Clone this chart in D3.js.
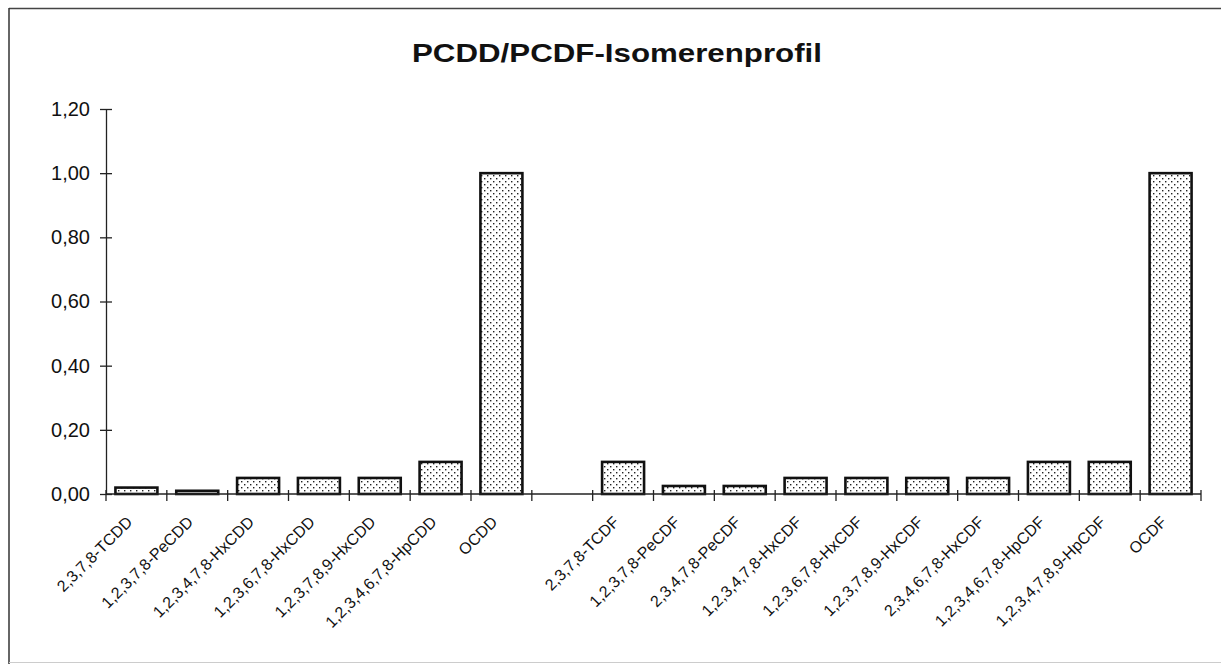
<!DOCTYPE html>
<html>
<head>
<meta charset="utf-8">
<script src="https://cdn.jsdelivr.net/npm/d3@7"></script>
<style>
  html, body { margin: 0; padding: 0; background: #fff; }
  svg { display: block; }
  text { font-family: "Liberation Sans", Arial, sans-serif; fill: #111; }
</style>
</head>
<body>
<svg id="chart" width="1221" height="664"></svg>
<script>
// ---- data ----
const title = "PCDD/PCDF-Isomerenprofil";
const categories = [
  "2,3,7,8-TCDD", "1,2,3,7,8-PeCDD", "1,2,3,4,7,8-HxCDD", "1,2,3,6,7,8-HxCDD",
  "1,2,3,7,8,9-HxCDD", "1,2,3,4,6,7,8-HpCDD", "OCDD", "",
  "2,3,7,8-TCDF", "1,2,3,7,8-PeCDF", "2,3,4,7,8-PeCDF", "1,2,3,4,7,8-HxCDF",
  "1,2,3,6,7,8-HxCDF", "1,2,3,7,8,9-HxCDF", "2,3,4,6,7,8-HxCDF",
  "1,2,3,4,6,7,8-HpCDF", "1,2,3,4,7,8,9-HpCDF", "OCDF"
];
const values = [
  0.02, 0.01, 0.05, 0.05, 0.05, 0.10, 1.00, null,
  0.10, 0.025, 0.025, 0.05, 0.05, 0.05, 0.05, 0.10, 0.10, 1.00
];
const yTicks = [0, 0.2, 0.4, 0.6, 0.8, 1.0, 1.2];

// ---- layout ----
const svg = d3.select("#chart");
const mLeft = 106, mRight = 1201, mTop = 109, mBottom = 494;

// dotted fill pattern
const defs = svg.append("defs");
const pat = defs.append("pattern")
  .attr("id", "dots").attr("patternUnits", "userSpaceOnUse")
  .attr("width", 6).attr("height", 6);
pat.append("rect").attr("width", 6).attr("height", 6).attr("fill", "#fff");
pat.append("rect").attr("x", 1).attr("y", 1).attr("width", 1.4).attr("height", 1.4).attr("fill", "#222");
pat.append("rect").attr("x", 4).attr("y", 4).attr("width", 1.4).attr("height", 1.4).attr("fill", "#222");

// frame
svg.append("line").attr("x1", 9).attr("x2", 1221).attr("y1", 8.5).attr("y2", 8.5)
  .attr("stroke", "#444").attr("stroke-width", 1.5);
svg.append("line").attr("x1", 9).attr("x2", 9).attr("y1", 8).attr("y2", 664)
  .attr("stroke", "#333").attr("stroke-width", 1.5);
svg.append("line").attr("x1", 9).attr("x2", 1221).attr("y1", 662.5).attr("y2", 662.5)
  .attr("stroke", "#ccc").attr("stroke-width", 1);

// title
svg.append("text").attr("x", 617).attr("y", 62).attr("text-anchor", "middle")
  .attr("font-size", 26).attr("font-weight", "bold")
  .attr("textLength", 410).attr("lengthAdjust", "spacingAndGlyphs")
  .text(title);

// scales
const x = d3.scaleBand().domain(d3.range(categories.length))
  .range([mLeft, mRight]).paddingInner(0.31).paddingOuter(0.155);
const y = d3.scaleLinear().domain([0, 1.2]).range([mBottom, mTop]);
const step = x.step();
const x0 = x(0) - step * x.paddingOuter();

// bars
svg.append("g").selectAll("rect")
  .data(values.map((v, i) => ({ v, i })).filter(d => d.v != null))
  .join("rect")
  .attr("x", d => x(d.i))
  .attr("width", x.bandwidth())
  .attr("y", d => y(d.v))
  .attr("height", d => y(0) - y(d.v))
  .attr("fill", "url(#dots)")
  .attr("stroke", "#111").attr("stroke-width", 2.6);

// y axis
const fmt = d3.format(".2f");
const yAxis = d3.axisLeft(y).tickValues(yTicks)
  .tickFormat(d => fmt(d).replace(".", ","))
  .tickSizeInner(6).tickSizeOuter(0).tickPadding(10);
const gy = svg.append("g").attr("transform", `translate(${mLeft},0)`).call(yAxis);
gy.select(".domain").attr("stroke", "#222").attr("stroke-width", 1.3);
gy.selectAll(".tick line").attr("x1", -6).attr("x2", 6).attr("stroke", "#222").attr("stroke-width", 1.3);
gy.selectAll(".tick text").attr("font-size", 20).attr("font-family", "Liberation Sans, Arial, sans-serif").attr("fill", "#111");

// x axis
const gx = svg.append("g");
gx.append("line").attr("x1", mLeft).attr("x2", mRight).attr("y1", mBottom).attr("y2", mBottom)
  .attr("stroke", "#222").attr("stroke-width", 1.3);
gx.selectAll(".xt").data(d3.range(categories.length + 1)).join("line")
  .attr("class", "xt")
  .attr("x1", i => x0 + i * step).attr("x2", i => x0 + i * step)
  .attr("y1", mBottom - 4).attr("y2", mBottom + 7)
  .attr("stroke", "#222").attr("stroke-width", 1.3);
gx.selectAll(".xl").data(categories.map((c, i) => ({ c, i })).filter(d => d.c !== ""))
  .join("text").attr("class", "xl")
  .attr("transform", d => `translate(${x(d.i) + x.bandwidth() / 2 - 3},${mBottom + 29}) rotate(-45)`)
  .attr("text-anchor", "end")
  .attr("font-size", 16)
  .text(d => d.c);
</script>
</body>
</html>
